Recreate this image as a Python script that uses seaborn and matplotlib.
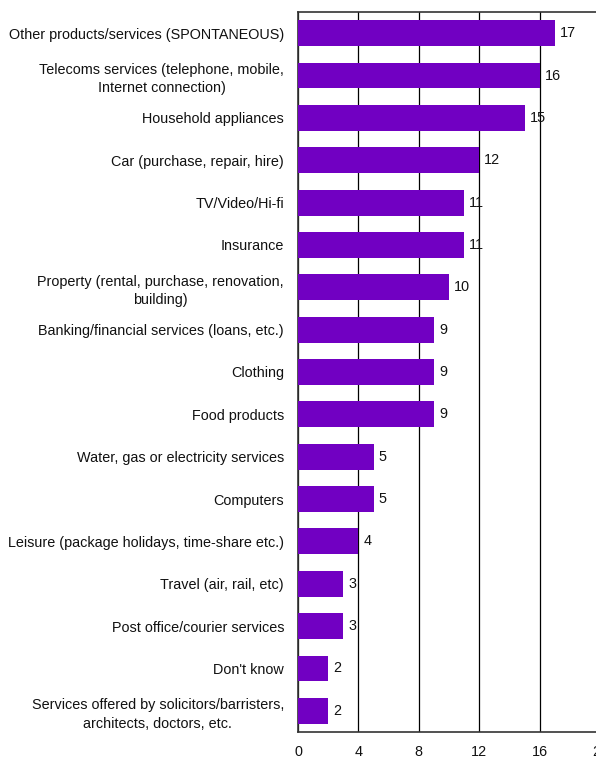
import matplotlib
matplotlib.use("Agg")
import matplotlib.pyplot as plt
import seaborn as sns
import pandas as pd

categories = [
    "Other products/services (SPONTANEOUS)",
    "Telecoms services (telephone, mobile,\nInternet connection)",
    "Household appliances",
    "Car (purchase, repair, hire)",
    "TV/Video/Hi-fi",
    "Insurance",
    "Property (rental, purchase, renovation,\nbuilding)",
    "Banking/financial services (loans, etc.)",
    "Clothing",
    "Food products",
    "Water, gas or electricity services",
    "Computers",
    "Leisure (package holidays, time-share etc.)",
    "Travel (air, rail, etc)",
    "Post office/courier services",
    "Don't know",
    "Services offered by solicitors/barristers,\narchitects, doctors, etc.",
]
values = [17, 16, 15, 12, 11, 11, 10, 9, 9, 9, 5, 5, 4, 3, 3, 2, 2]
x_ticks = [0, 4, 8, 12, 16, 20]

sns.set_theme(style="white")
plt.rcParams["font.family"] = ["Liberation Sans", "DejaVu Sans"]

FS = 10.4

df = pd.DataFrame({"category": categories, "value": values})

fig = plt.figure(figsize=(5.96, 7.58), dpi=100)
ax = fig.add_axes([298 / 596, 1 - 732 / 758, 302 / 596, 720 / 758])

sns.barplot(data=df, x="value", y="category", orient="h", color="#7100C2",
            saturation=1, width=0.61, linewidth=0, ax=ax, zorder=3)

ax.set_xlim(0, 20)
ax.set_xticks(x_ticks)
ax.set_xticklabels([str(t) for t in x_ticks], fontsize=FS, color="#111111")
ax.xaxis.grid(True, color="black", linewidth=0.9, zorder=0)
ax.yaxis.grid(False)
ax.set_axisbelow(True)
ax.set_xlabel("")
ax.set_ylabel("")
ax.tick_params(axis="both", length=0)
ax.tick_params(axis="y", pad=10)
ax.tick_params(axis="x", pad=9)
for lbl in ax.get_yticklabels():
    lbl.set_fontsize(FS)
    lbl.set_color("#111111")
    lbl.set_multialignment("center")
    lbl.set_linespacing(1.38)

for side in ["top", "bottom", "left"]:
    ax.spines[side].set_visible(True)
    ax.spines[side].set_color("#333333")
    ax.spines[side].set_linewidth(1.2)
ax.spines["right"].set_visible(False)

for i, v in enumerate(values):
    ax.text(v + 0.33, i, str(v), va="center", ha="left", fontsize=FS,
            color="#111111", zorder=4)

fig.savefig("out.png", dpi=100)
